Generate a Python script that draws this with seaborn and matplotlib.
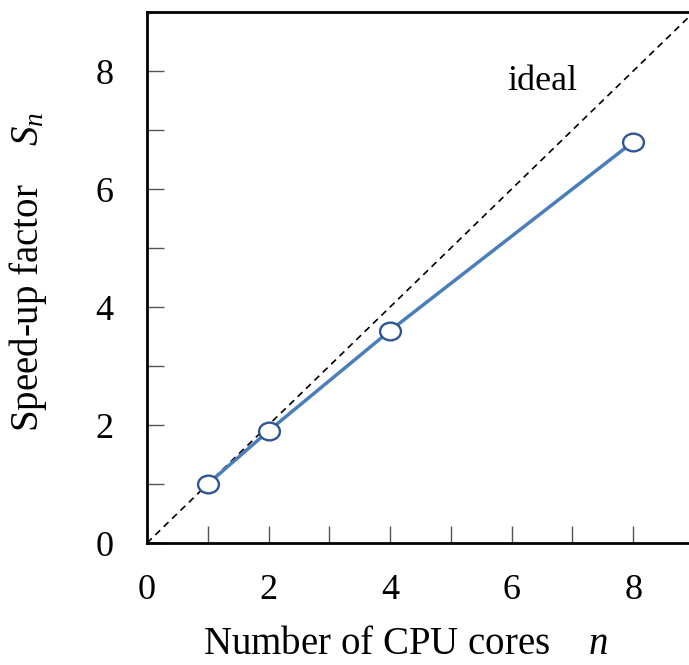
import numpy as np
import pandas as pd
import matplotlib.pyplot as plt
from matplotlib.path import Path
from matplotlib.transforms import Affine2D
import seaborn as sns

# datos medidos
nucleos = [1, 2, 4, 8]
aceleracion = [1.0, 1.9, 3.6, 6.8]
ideal_x = [0, 9]
ideal_y = [0, 9]

sns.set_theme(style='ticks')
plt.rcParams['font.family'] = ['Liberation Serif', 'DejaVu Serif']
plt.rcParams['mathtext.fontset'] = 'custom'
plt.rcParams['mathtext.it'] = 'Liberation Serif:italic'
plt.rcParams['mathtext.rm'] = 'Liberation Serif'
plt.rcParams['text.color'] = 'black'
plt.rcParams['axes.labelcolor'] = 'black'

fig = plt.figure(figsize=(6.89, 6.65), dpi=100)
ax = fig.add_axes([147 / 689, 122 / 665, 547 / 689, 531 / 665])

# marcador eliptico como en el original
elipse = Path.unit_circle().transformed(Affine2D().scale(1.0, 0.85))

ax.plot(ideal_x, ideal_y, ls=(0, (4, 3)), color='black', lw=1.2)
datos = pd.DataFrame({'n': nucleos, 'S': aceleracion})
sns.lineplot(data=datos, x='n', y='S', ax=ax, color='#4a7ebb', lw=2.5,
             marker=elipse, markersize=15, markerfacecolor='white',
             markeredgecolor='#2f5597', markeredgewidth=1.7)

ax.text(6.5, 7.82, 'ideal', fontsize=26, ha='center', va='center')

ax.set_xlim(0, 9)
ax.set_ylim(0, 9)
ax.set_xticks([0, 2, 4, 6, 8])
ax.set_yticks([0, 2, 4, 6, 8])
ax.set_xticks([1, 3, 5, 7], minor=True)
ax.set_yticks([1, 3, 5, 7], minor=True)
ax.tick_params(which='both', direction='in', width=1, colors='#555555',
               labelcolor='black', labelsize=26)
ax.tick_params(which='major', length=12)
ax.tick_params(which='minor', length=12)
ax.tick_params(axis='x', pad=22)
ax.tick_params(axis='y', pad=24)

for lado in ['left', 'bottom', 'top']:
    ax.spines[lado].set_linewidth(2)
    ax.spines[lado].set_color('black')
ax.spines['right'].set_visible(False)

ax.set_xlabel('Number of CPU cores    $n$', fontsize=28)
ax.set_ylabel('Speed-up factor    $S_n$', fontsize=28)
ax.xaxis.set_label_coords(0.4735, -0.157)
ax.yaxis.set_label_coords(-0.18, 0.51)

fig.savefig('out.png', dpi=100)
